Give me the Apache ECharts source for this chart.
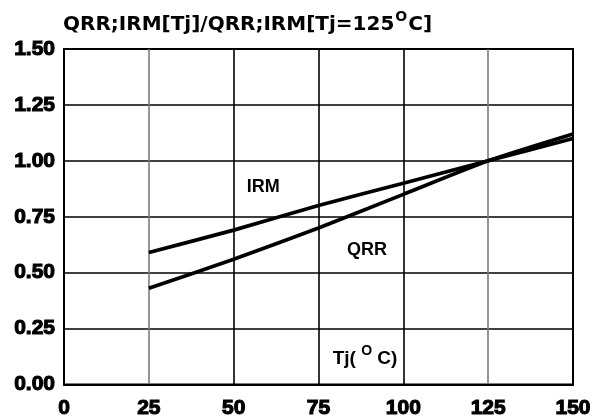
<!DOCTYPE html>
<html>
<head>
<meta charset="utf-8">
<script src="https://cdn.jsdelivr.net/npm/echarts@6/dist/echarts.min.js"></script>
<style>
  html, body { margin: 0; padding: 0; background: #fff; }
  #chart { width: 604px; height: 419px; }
</style>
</head>
<body>
<div id="chart"></div>
<script>
// Junction temperature (°C) and normalised recovery values
const temps = [25, 50, 75, 100, 125, 150];
const qrrValues = [0.43, 0.56, 0.70, 0.85, 1.00, 1.12];
const irmValues = [0.59, 0.69, 0.80, 0.90, 1.00, 1.10];

const xTicks = [0, 25, 50, 75, 100, 125, 150];
const yTicks = [0.00, 0.25, 0.50, 0.75, 1.00, 1.25, 1.50];

// Curve labels, anchored in data coordinates
const curveLabels = [
  { text: 'IRM', at: [58.7, 0.885] },
  { text: 'QRR', at: [89.3, 0.603] }
];
const axisNameAt = [88.7, 0.125];

const tickFont = {
  fontFamily: 'Liberation Sans, Arial, sans-serif',
  fontWeight: 'bold',
  fontSize: 21,
  color: '#000',
  textBorderColor: '#000',
  textBorderWidth: 1.1
};

const chart = echarts.init(document.getElementById('chart'), null, { renderer: 'canvas' });

const toPairs = (xs, ys) => xs.map((x, i) => [x, ys[i]]);

chart.setOption({
  animation: false,
  backgroundColor: '#fff',
  grid: {
    left: 64, right: 31, top: 49, bottom: 34,
    show: true, borderColor: '#000', borderWidth: 2, backgroundColor: 'transparent'
  },
  xAxis: {
    type: 'value',
    min: xTicks[0], max: xTicks[xTicks.length - 1], interval: 25,
    axisLine: { show: true, lineStyle: { color: '#000', width: 2 } },
    axisTick: { show: false },
    axisLabel: Object.assign({ margin: 13 }, tickFont),
    splitLine: {
      show: true,
      lineStyle: {
        color: ['#000', '#7a7a7a', '#000', '#000', '#000', '#7a7a7a', '#000'],
        width: 1.6
      }
    }
  },
  yAxis: {
    type: 'value',
    min: yTicks[0], max: yTicks[yTicks.length - 1], interval: 0.25,
    axisLine: { show: true, lineStyle: { color: '#000', width: 2 } },
    axisTick: { show: false },
    axisLabel: Object.assign({ margin: 9, formatter: v => v.toFixed(2) }, tickFont),
    splitLine: { show: true, lineStyle: { color: '#000', width: 1.6 } }
  },
  series: [
    {
      name: 'QRR', type: 'line', data: toPairs(temps, qrrValues),
      showSymbol: false, smooth: 0.2,
      lineStyle: { color: '#000', width: 3.7 }
    },
    {
      name: 'IRM', type: 'line', data: toPairs(temps, irmValues),
      showSymbol: false, smooth: 0.2,
      lineStyle: { color: '#000', width: 3.7 }
    }
  ]
});

// Title and in-plot labels
const supRich = {
  a: { fontFamily: 'DejaVu Sans, sans-serif', fontWeight: 'bold', fontSize: 20, color: '#000', lineHeight: 25, verticalAlign: 'bottom' },
  s: { fontFamily: 'DejaVu Sans, sans-serif', fontWeight: 'bold', fontSize: 14, color: '#000', lineHeight: 25, verticalAlign: 'top', padding: [0, 1, 0, 1] }
};

const graphics = [
  {
    type: 'text', left: 63, top: 10,
    style: {
      text: '{a|QRR;IRM[Tj]/QRR;IRM[Tj=125}{s|O}{a|C]}',
      rich: supRich
    }
  }
];

curveLabels.forEach(l => {
  const p = chart.convertToPixel({ gridIndex: 0 }, l.at);
  graphics.push({
    type: 'text', x: p[0], y: p[1],
    style: {
      text: l.text, fontFamily: 'Liberation Sans, Arial, sans-serif', fontWeight: 'bold',
      fontSize: 18, fill: '#000', align: 'center', verticalAlign: 'middle'
    }
  });
});

const tp = chart.convertToPixel({ gridIndex: 0 }, axisNameAt);
graphics.push({
  type: 'text', x: tp[0], y: tp[1],
  style: {
    text: '{a|Tj( }{s|O}{a| C)}',
    align: 'center', verticalAlign: 'middle',
    rich: {
      a: { fontFamily: 'Liberation Sans, Arial, sans-serif', fontWeight: 'bold', fontSize: 19, fill: '#000', lineHeight: 24, verticalAlign: 'bottom' },
      s: { fontFamily: 'Liberation Sans, Arial, sans-serif', fontWeight: 'bold', fontSize: 14, fill: '#000', lineHeight: 24, verticalAlign: 'top' }
    }
  }
});

chart.setOption({ graphic: graphics });
</script>
</body>
</html>
